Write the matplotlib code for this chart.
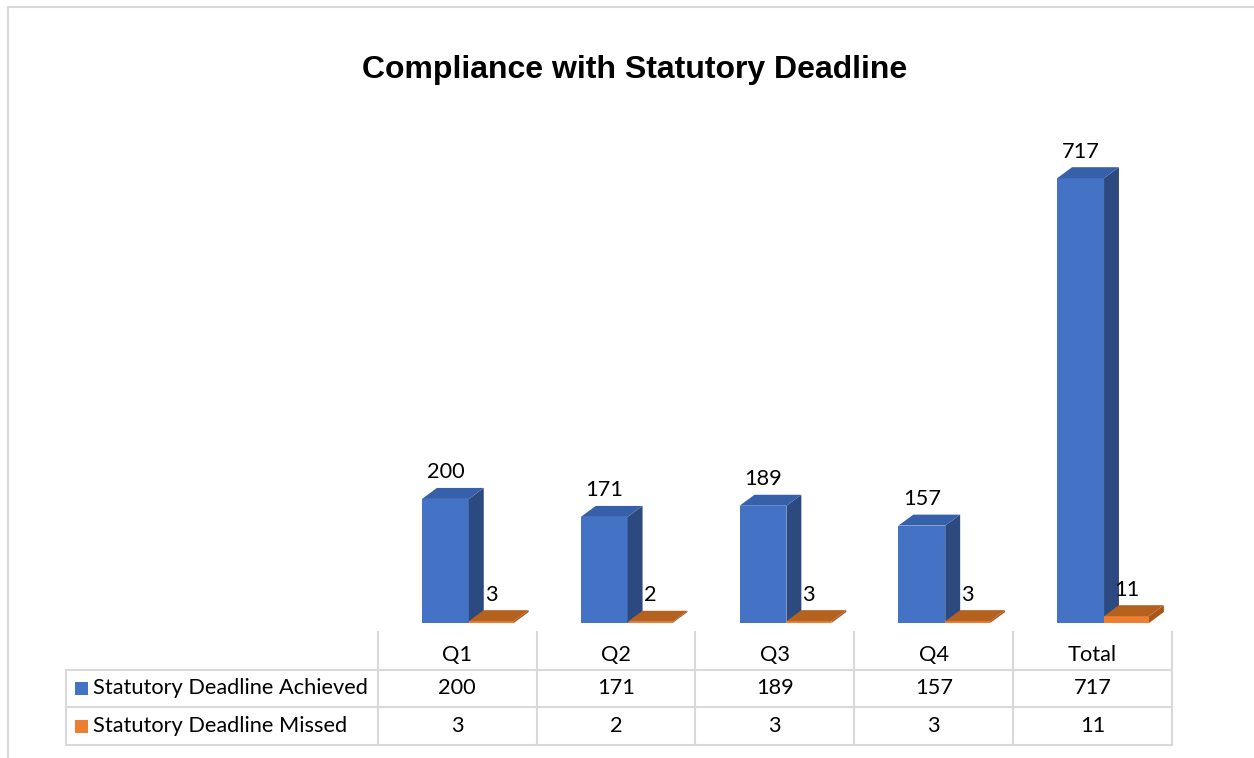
import matplotlib
matplotlib.use("Agg")
import matplotlib.pyplot as plt
from matplotlib.patches import Polygon, Rectangle
from matplotlib.lines import Line2D

# chart data
categories = ["Q1", "Q2", "Q3", "Q4", "Total"]
achieved = [200, 171, 189, 157, 717]
missed = [3, 2, 3, 3, 11]
series_names = ["Statutory Deadline Achieved", "Statutory Deadline Missed"]

W, H = 1254, 758
LABEL_FONT = "Lato"
LABEL_SIZE = 15.7
GRID = "#d9d9d9"

BLUE = ("#4472c4", "#2c4a80", "#3660a9")     # front, side, top
ORANGE = ("#ed7d31", "#a9561b", "#b5611f")

fig = plt.figure(figsize=(W / 100, H / 100), dpi=100)


def px_rect(x0, y0, x1, y1):
    # pixel box (origin top-left) -> figure fraction rect
    return [x0 / W, 1 - y1 / H, (x1 - x0) / W, (y1 - y0) / H]


# outer chart border (only top and left visible in the crop)
fig.add_artist(Rectangle((8 / W, -0.05), 1.2, 1.05 - 7 / H, transform=fig.transFigure,
                         fill=False, ec=GRID, lw=1.5))

fig.text(635 / W, 1 - 70 / H, "Compliance with Statutory Deadline", ha="center", va="center",
         fontsize=23, fontweight="bold", family="Liberation Sans")

# bar area
ax = fig.add_axes(px_rect(378, 100, 1172, 623))
ax.set_xlim(-0.5, len(categories) - 0.5)
ax.set_ylim(0, 843)
ax.axis("off")

DX, DY = 0.094, 17.7   # depth offset of the 3-D look
B0, B1, B2 = -0.223, 0.072, 0.355


def bar3d(x0, x1, h, colors):
    front, side, top = colors
    ax.add_patch(Polygon([(x0, 0), (x1, 0), (x1, h), (x0, h)], fc=front, ec="none", clip_on=False))
    ax.add_patch(Polygon([(x1, 0), (x1 + DX, DY), (x1 + DX, h + DY), (x1, h)], fc=side, ec="none",
                         clip_on=False))
    ax.add_patch(Polygon([(x0, h), (x1, h), (x1 + DX, h + DY), (x0 + DX, h + DY)], fc=top, ec="none",
                         clip_on=False))


for i, (a, m) in enumerate(zip(achieved, missed)):
    bar3d(i + B0, i + B1, a, BLUE)
    bar3d(i + B1, i + B2, m, ORANGE)
    ax.annotate(str(a), (i + (B0 + B1) / 2, a + DY), xytext=(0, 4), textcoords="offset points",
                ha="center", va="bottom", fontsize=LABEL_SIZE, family=LABEL_FONT)
    ax.annotate(str(m), (i + (B1 + B2) / 2, m + DY), xytext=(0, 4), textcoords="offset points",
                ha="center", va="bottom", fontsize=LABEL_SIZE, family=LABEL_FONT)

# data table
tax = fig.add_axes(px_rect(66, 632, 1172, 745))
x_left = -0.5 - 312 / 159
tax.set_xlim(x_left, len(categories) - 0.5)
tax.set_ylim(3, 0)
tax.axis("off")

for i in range(len(categories) + 1):
    tax.add_line(Line2D([i - 0.5, i - 0.5], [0, 3], color=GRID, lw=1.5, clip_on=False))
tax.add_line(Line2D([x_left, x_left], [1, 3], color=GRID, lw=1.5, clip_on=False))
for r in (1, 2, 3):
    tax.add_line(Line2D([x_left, len(categories) - 0.5], [r, r], color=GRID, lw=1.5, clip_on=False))

for i, c in enumerate(categories):
    tax.text(i, 0.62, c, ha="center", va="center", fontsize=LABEL_SIZE, family=LABEL_FONT)
    tax.text(i, 1.5, str(achieved[i]), ha="center", va="center", fontsize=LABEL_SIZE, family=LABEL_FONT)
    tax.text(i, 2.5, str(missed[i]), ha="center", va="center", fontsize=LABEL_SIZE, family=LABEL_FONT)

row_h = 113 / 3
for r, (name, col) in enumerate(zip(series_names, (BLUE[0], ORANGE[0]))):
    tax.add_patch(Rectangle((x_left + 9 / 159, 1.5 + r - 6.5 / row_h), 13 / 159, 13 / row_h,
                            fc=col, ec="none"))
    tax.text(x_left + 27 / 159, 1.5 + r, name, ha="left", va="center",
             fontsize=LABEL_SIZE, family=LABEL_FONT)

fig.savefig("out.png", dpi=100)
